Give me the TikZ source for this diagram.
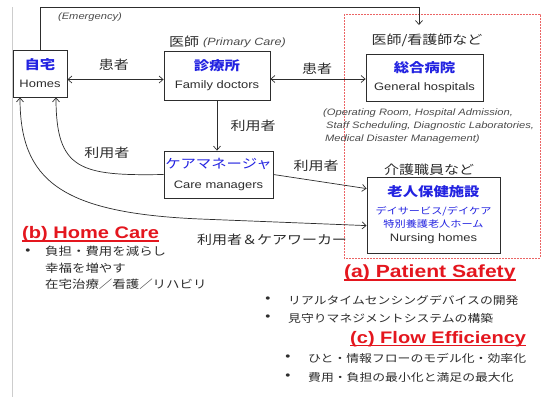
\documentclass[tikz,border=0pt]{standalone}
\usepackage{fontspec}
\setmainfont[FakeStretch=1.2]{Liberation Sans}
\newfontfamily\jp[FakeStretch=1.2]{Noto Sans CJK JP}
\usetikzlibrary{arrows.meta,calc}
\definecolor{jblue}{RGB}{35,35,225}
\definecolor{hred}{RGB}{228,22,30}
\definecolor{dred}{RGB}{235,100,100}
\definecolor{ink}{RGB}{45,45,45}
\definecolor{itgray}{RGB}{75,75,75}
\definecolor{lgray}{RGB}{205,205,205}
\begin{document}
\begin{tikzpicture}[x=1pt,y=-1pt,
  box/.style={draw=ink, line width=0.8pt, inner sep=0pt, align=center, text=ink,
              font=\fontsize{10.8}{18}\selectfont},
  conn/.style={draw=ink, line width=0.7pt},
  tip/.style={-{Straight Barb[length=4pt,width=7pt]}},
  dtip/.style={{Straight Barb[length=4pt,width=7pt]}-{Straight Barb[length=4pt,width=7pt]}},
  lab/.style={inner sep=0pt, text=ink, font=\jp\fontsize{12.5}{13}\selectfont},
  itl/.style={inner sep=0pt, text=itgray, font=\itshape\fontsize{9.3}{13}\selectfont},
  head/.style={inner sep=0pt, text=hred, font=\bfseries\fontsize{16.7}{18}\selectfont},
  uline/.style={draw=hred, line width=1.3pt},
  blt/.style={inner sep=0pt, text=ink, font=\fontsize{12}{12}\selectfont},
  btxt/.style={inner sep=0pt, text=ink, anchor=west, font=\jp\fontsize{10.7}{16.3}\selectfont}]
\useasboundingbox (0,0) rectangle (542,397);
\fill[white] (0,0) rectangle (542,397);

% frame line and dashed hospital region
\draw[lgray, line width=0.8pt] (12,7) -- (12,397);
\draw[dred, line width=0.8pt, dash pattern=on 1.6pt off 1.4pt] (344,14) rectangle (540,258);

% boxes
\node[box, minimum width=54pt, minimum height=47pt] (homes) at (40,73.5)
  {{\jp\bfseries\fontsize{12.8}{12}\selectfont\color{jblue}自宅}\\Homes};
\node[box, minimum width=106pt, minimum height=49pt] (fd) at (217,75.5)
  {{\jp\bfseries\fontsize{12.8}{12}\selectfont\color{jblue}診療所}\\Family doctors};
\node[box, minimum width=117pt, minimum height=47pt] (gh) at (424.5,77.5)
  {{\jp\bfseries\fontsize{12.8}{12}\selectfont\color{jblue}総合病院}\\General hospitals};
\node[box, minimum width=109pt, minimum height=47pt] (cm) at (218.5,174.5)
  {{\jp\fontsize{12.8}{12}\selectfont\color{jblue}ケアマネージャ}\\[2pt]Care managers};
\node[box, minimum width=133pt, minimum height=76pt, font=\fontsize{10.8}{13}\selectfont] (nh) at (433.5,215)
  {{\jp\bfseries\fontsize{12.8}{12}\selectfont\color{jblue}老人保健施設}\\[5pt]
   {\jp\fontsize{9.3}{9.3}\selectfont\color{jblue}デイサービス/デイケア}\\
   {\jp\fontsize{9.3}{9.3}\selectfont\color{jblue}特別養護老人ホーム}\\[1pt]
   Nursing homes};

% labels
\node[itl] (emerg) at (90,17) {(Emergency)};
\node[lab] (ishi) at (184,42) {医師};
\node[itl, anchor=west, font=\itshape\fontsize{10.5}{13}\selectfont] (pcare) at (203,43) {(Primary Care)};
\node[lab] (gstaff) at (427,40) {医師/看護師など};
\node[lab] (kstaff) at (429,170) {介護職員など};
\node[itl, anchor=west, align=left] (orlist) at (323,126)
  {(Operating Room, Hospital Admission,\\
   \hspace*{3pt}Staff Scheduling, Diagnostic Laboratories,\\
   \hspace*{2pt}Medical Disaster Management)};
\node[lab] (p1) at (114,65) {患者};
\node[lab] (p2) at (317,69) {患者};
\node[lab] (u1) at (253,126) {利用者};
\node[lab] (u2) at (107,153) {利用者};
\node[lab] (u3) at (316,166) {利用者};
\node[lab] (u4) at (272,240) {利用者＆ケアワーカー};

% connectors
\coordinate (emtop) at (0,7);
\coordinate (emtip) at (419,25);
\draw[conn, tip] (homes.north) -- (homes.north |- emtop) -| (emtip);
\draw[conn, dtip] ([yshift=-6pt]homes.east) -- ([yshift=-6pt]homes.east -| fd.west);
\draw[conn, dtip] ([yshift=-3.5pt]fd.east) -- ([yshift=-3.5pt]fd.east -| gh.west);
\draw[conn, tip] (fd.south) -- (fd.south |- cm.north);
\draw[conn, tip] (cm.east) -- ($(nh.north west)+(0,12)$);
\draw[conn, tip] (cm.west) .. controls (80,176) and (56,170) .. ([xshift=16pt]homes.south);
\draw[conn, dtip] ($(nh.north west)+(0,49)$) -- (200,219)
  .. controls (60,213) and (20,180) .. ([xshift=-20pt]homes.south);

% (b) Home Care
\node[head, anchor=base west] (hb) at (22,238.5) {(b) Home Care};
\draw[uline] ([yshift=-2.5pt]hb.base west) -- ([yshift=-2.5pt]hb.base east);
\node[blt] (hbb) at (28,252) {\textbullet};
\node[btxt, align=left, font=\jp\fontsize{11.2}{16.3}\selectfont] (hbt) at (45,268)
  {負担・費用を減らし\\幸福を増やす\\在宅治療／看護／リハビリ};

% (a) Patient Safety
\node[head, anchor=base west, font=\bfseries\fontsize{17.6}{18}\selectfont] (ha) at (344,277.5) {(a) Patient Safety};
\draw[uline] ([yshift=-2.5pt]ha.base west) -- ([yshift=-2.5pt]ha.base east);
\node[blt] (hab1) at (268,300) {\textbullet};
\node[btxt] (hat1) at (288,300) {リアルタイムセンシングデバイスの開発};
\node[blt] (hab2) at (268,318) {\textbullet};
\node[btxt] (hat2) at (288,318) {見守りマネジメントシステムの構築};

% (c) Flow Efficiency
\node[head, anchor=base west] (hc) at (350,343) {(c) Flow Efficiency};
\draw[uline] ([yshift=-2.5pt]hc.base west) -- ([yshift=-2.5pt]hc.base east);
\node[blt] (hcb1) at (288,358) {\textbullet};
\node[btxt] (hct1) at (308,358) {ひと・情報フローのモデル化・効率化};
\node[blt] (hcb2) at (288,377) {\textbullet};
\node[btxt] (hct2) at (308,377) {費用・負担の最小化と満足の最大化};
\end{tikzpicture}
\end{document}
